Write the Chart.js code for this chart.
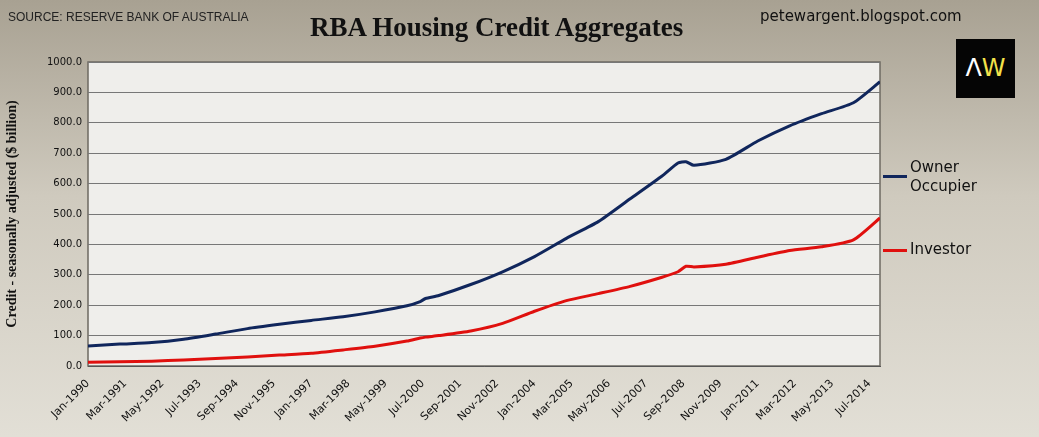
<!DOCTYPE html>
<html><head><meta charset="utf-8">
<script src="https://cdn.jsdelivr.net/npm/chart.js@4.4.0/dist/chart.umd.min.js"></script>
<style>
  body { margin:0; }
  #wrap { position:relative; width:1039px; height:437px; background:linear-gradient(#a8a192, #cfcabe 45%, #e2dfd6); overflow:hidden; }
  canvas { position:absolute; left:0; top:0; }
  .t { position:absolute; white-space:nowrap; }
</style></head>
<body>
<div id="wrap">
  <canvas id="myChart" width="1039" height="437"></canvas>
  <div class="t" style="left:8px;top:10px;font:12px 'Liberation Sans',Arial;color:#222">SOURCE: RESERVE BANK OF AUSTRALIA</div>
  <div class="t" style="left:310px;top:12px;font:bold 27px 'Liberation Serif','Times New Roman';color:#111">RBA Housing Credit Aggregates</div>
  <div class="t" style="left:760px;top:7px;font:15px 'DejaVu Sans';color:#111">petewargent.blogspot.com</div>
  <div class="t" style="left:956px;top:39px;width:59px;height:59px;background:#050505;color:#f3e24a;font:24px 'DejaVu Sans';text-align:center;line-height:59px"><span style="color:#fff">Λ</span>W</div>
  <div class="t" style="left:910px;top:158px;font:15px 'DejaVu Sans';color:#111;line-height:19px">Owner<br>Occupier</div>
  <div class="t" style="left:883px;top:175px;width:24px;height:3px;background:#10265c"></div>
  <div class="t" style="left:910px;top:240px;font:15px 'DejaVu Sans';color:#111">Investor</div>
  <div class="t" style="left:883px;top:249px;width:24px;height:3px;background:#e0100e"></div>
</div>
<script>
// month index from Jan-1990
const tickLabels = ['Jan-1990','Mar-1991','May-1992','Jul-1993','Sep-1994','Nov-1995','Jan-1997','Mar-1998','May-1999','Jul-2000','Sep-2001','Nov-2002','Jan-2004','Mar-2005','May-2006','Jul-2007','Sep-2008','Nov-2009','Jan-2011','Mar-2012','May-2013','Jul-2014'];
const months = [0,12,24,36,48,60,72,84,96,108,120,125,127,132,144,156,168,180,192,204,216,222,225,228,240,252,264,276,288,298];
const owner =  [66,72,77,88,105,123,137,150,162,178,198,212,222,232,268,310,360,420,475,550,625,668,672,660,680,740,790,830,866,935];
const investor=[12,14,16,20,25,30,36,42,53,65,82,92,95,100,115,140,180,215,238,262,292,310,328,326,335,358,380,392,415,487];

const plotBg = {
  id:'plotBg',
  beforeDraw(c){ const a=c.chartArea, x=c.ctx; x.save();
    x.fillStyle='#efeeeb'; x.fillRect(a.left,a.top,a.width,a.height);
    x.strokeStyle='#6e6a62'; x.lineWidth=1.5; x.strokeRect(a.left,a.top,a.width,a.height); x.restore(); }
};
new Chart(document.getElementById('myChart'), {
  type:'line',
  data:{ datasets:[
    {label:'Owner Occupier', data:months.map((m,i)=>({x:m,y:owner[i]})), borderColor:'#10265c', borderWidth:3, pointRadius:0, tension:0.2},
    {label:'Investor', data:months.map((m,i)=>({x:m,y:investor[i]})), borderColor:'#e0100e', borderWidth:3, pointRadius:0, tension:0.2}
  ]},
  plugins:[plotBg],
  options:{
    responsive:false, animation:false,
    layout:{ padding:{ left:0, top:62, right:159, bottom:0 } },
    plugins:{ legend:{display:false}, tooltip:{enabled:false} },
    scales:{
      x:{ type:'linear', min:0, max:298,
          afterBuildTicks(s){ s.ticks = tickLabels.map((_,i)=>({value:i*14})); },
          afterFit(s){ s.height=71; },
          grid:{ display:false, drawTicks:true },
          border:{ color:'#555' },
          ticks:{ autoSkip:false, maxRotation:45, minRotation:45, color:'#111', font:{family:'DejaVu Sans', size:11},
                  callback:(v)=>tickLabels[Math.round(v/14)] } },
      y:{ min:0, max:1000,
          afterFit(s){ s.width=88; },
          grid:{ color:'#777', drawTicks:false },
          border:{ display:false },
          ticks:{ stepSize:100, padding:6, color:'#111', font:{family:'DejaVu Sans', size:10}, callback:v=>v.toFixed(1) },
          title:{ display:true, text:'Credit - seasonally adjusted ($ billion)', color:'#111', font:{family:'Liberation Serif', size:14, weight:'bold'} } }
    }
  }
});
</script>
</body></html>
